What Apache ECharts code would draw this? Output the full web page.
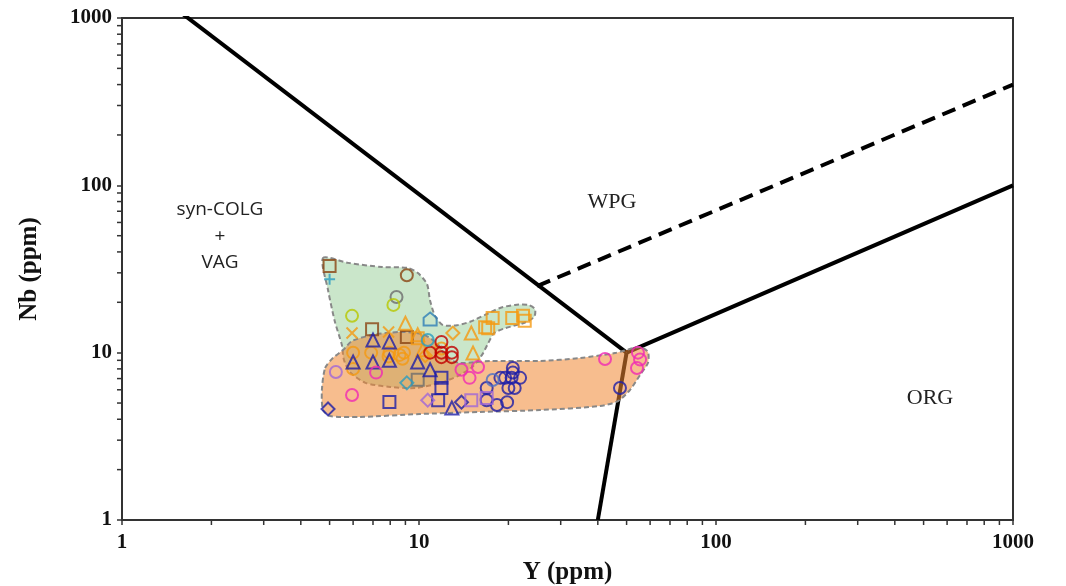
<!DOCTYPE html>
<html>
<head>
<meta charset="utf-8">
<script src="https://cdn.jsdelivr.net/npm/echarts@6/dist/echarts.min.js"></script>
<style>
  html, body { margin: 0; padding: 0; background: #fff; }
  #chart { width: 1066px; height: 586px; }
</style>
</head>
<body>
<div id="chart"></div>
<script>
// discrimination boundaries (Y, Nb)
const lineWPG = [[1, 2000], [50, 10]];
const lineORG = [[50, 10], [1000, 100]];
const lineBottom = [[50, 10], [40, 1]];
const lineDash = [[25, 25], [1000, 400]];

// sample fields
const greenZone = [
  [4.75, 36.8], [5.77, 34.4], [7.51, 32.5], [9.18, 32.1], [9.92, 29.9], [10.64, 25.7],
  [10.89, 20.6], [11.32, 16.6], [12.04, 14.6], [13.43, 14.6], [14.85, 15.3], [16.68, 16.8],
  [18.74, 18.5], [21.05, 19.3], [23.28, 19.3], [24.58, 18.2], [24.4, 16.3], [22.4, 15.0],
  [19.5, 14.0], [17.9, 13.1], [17.1, 11.4], [16.3, 9.7], [15.1, 8.2], [13.5, 7.25],
  [11.8, 6.6], [9.7, 6.15], [8.0, 6.24], [6.6, 6.6], [5.86, 7.66], [5.59, 9.04],
  [5.5, 11.1], [5.21, 15.3], [4.94, 23.7]
];
const orangeZone = [
  [4.83, 8.1], [5.13, 9.29], [5.55, 10.37], [5.95, 11.74], [6.95, 12.75], [8.63, 13.3],
  [10.23, 12.93], [11.5, 11.4], [12.43, 9.29], [13.74, 8.68], [17.34, 8.92], [25.55, 8.92],
  [34.8, 9.29], [45.7, 9.95], [55.5, 10.81], [59.0, 10.09], [59.0, 8.68], [55.5, 7.36],
  [51.3, 5.98], [46.8, 5.14], [40.7, 4.8], [25.55, 4.54], [16.05, 4.42], [10.08, 4.3],
  [6.33, 4.13], [5.02, 4.18], [4.75, 4.54], [4.71, 5.98]
];

// samples
const brownSquares = [[5.0, 33], [6.95, 13.8], [9.1, 12.4]];
const brownCircles = [[9.1, 29]];
const tealPlus = [[5.0, 27.5]];
const grayCircles = [[8.4, 21.5]];
const graySquares = [[9.9, 6.9]];
const limeCircles = [[8.2, 19.3], [5.95, 16.6]];
const orangeCrosses = [[5.95, 13.1], [7.9, 13.3]];
const orangeTriangles = [[9.0, 15], [9.9, 12.8], [15.0, 13.1], [15.2, 9.95], [10.3, 10.4]];
const orangeSquares = [[9.9, 12.2], [16.7, 14.2], [17.1, 14.0], [17.7, 16.1], [20.6, 16.1], [22.4, 16.6], [22.7, 15.5]];
const orangeDiamonds = [[13.0, 13.1], [10.5, 9.6]];
const orangeCircles = [[6.0, 10], [6.9, 10], [7.95, 10], [8.9, 10], [6.0, 8.0], [7.9, 9.5], [8.8, 9.2], [11.9, 10.6], [8.6, 9.7]];
const navyTriangles = [[7.0, 11.9], [7.95, 11.6], [6.0, 8.8], [7.0, 8.8], [7.95, 9.0], [9.9, 8.8], [10.9, 7.9], [12.9, 4.67]];
const navySquares = [[7.95, 5.07], [11.9, 7.07], [11.9, 6.15], [11.6, 5.2]];
const navyDiamonds = [[4.94, 4.61], [13.9, 5.06]];
const navyCircles = [[20.7, 8.1], [20.7, 7.6], [18.8, 7.07], [19.5, 7.07], [20.5, 7.07], [21.9, 7.07], [20.0, 6.15], [21.0, 6.15], [16.9, 6.15], [16.9, 5.2], [18.3, 4.87], [19.8, 5.06], [47.5, 6.15]];
const blueCircles = [[17.7, 6.87]];
const pinkCircles = [[7.17, 7.6], [5.95, 5.58], [13.9, 7.9], [14.8, 7.07], [15.8, 8.2], [42.3, 9.16], [54.6, 10], [55.5, 9.1], [54.2, 8.1]];
const redCircles = [[11.9, 11.6], [10.9, 10], [11.9, 10], [12.9, 10], [11.9, 9.4], [12.9, 9.4]];
const purpleCircles = [[5.25, 7.66]];
const purpleSquares = [[15.0, 5.2], [16.9, 5.35]];
const purpleDiamonds = [[10.7, 5.2]];
const tealDiamonds = [[9.1, 6.6]];
const tealCircles = [[10.7, 11.9]];
const tealHouses = [[10.9, 15.9]];

const xMinorTicks = [2, 3, 4, 5, 6, 7, 8, 9, 20, 30, 40, 50, 60, 70, 80, 90, 200, 300, 400, 500, 600, 700, 800, 900];
const yMinorTicks = [2, 3, 4, 5, 6, 7, 8, 9, 20, 30, 40, 50, 60, 70, 80, 90, 200, 300, 400, 500, 600, 700, 800, 900];

const brown = '#8B4513';
const orange = '#F59A12';
const navy = '#1E1EA8';
const pink = '#F02AB4';

const crossPath = 'path://M0,0L10,10M10,0L0,10';
const plusPath = 'path://M5,0L5,10M0,5L10,5';
const housePath = 'path://M0,4L5,0L10,4L10,10L0,10Z';

const groups = [
  [brownSquares, brown, 'rect', 12],
  [brownCircles, brown, 'circle', 12],
  [tealPlus, '#2A9DC0', plusPath, 11],
  [grayCircles, '#6E6E6E', 'circle', 12],
  [graySquares, '#6E6E6E', 'rect', 12],
  [limeCircles, '#B8C800', 'circle', 12],
  [orangeCrosses, orange, crossPath, 11],
  [orangeTriangles, orange, 'triangle', 13],
  [orangeSquares, orange, 'rect', 12],
  [orangeDiamonds, orange, 'diamond', 13],
  [orangeCircles, orange, 'circle', 12],
  [navyTriangles, navy, 'triangle', 13],
  [navySquares, navy, 'rect', 12],
  [navyDiamonds, navy, 'diamond', 13],
  [navyCircles, navy, 'circle', 12],
  [blueCircles, '#4C6FC4', 'circle', 12],
  [pinkCircles, pink, 'circle', 12],
  [redCircles, '#C00000', 'circle', 12],
  [purpleCircles, '#A066D8', 'circle', 12],
  [purpleSquares, '#A066D8', 'rect', 12],
  [purpleDiamonds, '#A066D8', 'diamond', 13],
  [tealDiamonds, '#2A9DC0', 'diamond', 13],
  [tealCircles, '#2A9DC0', 'circle', 12],
  [tealHouses, '#2F7FB8', housePath, 13]
];

function boundary(data, dashed) {
  return {
    type: 'line', data, z: 1, symbol: 'none', silent: true,
    lineStyle: { color: '#000', width: 4, type: dashed ? [14, 8] : 'solid' }
  };
}

function zone(points, fill) {
  return {
    type: 'custom', z: 2, silent: true, data: [[10, 10]],
    renderItem: (params, api) => ({
      type: 'polygon',
      shape: { points: points.map(p => api.coord(p)), smooth: 0.25 },
      style: { fill, stroke: '#888', lineWidth: 2, lineDash: [5, 3] }
    })
  };
}

function minorTicks(values, isX) {
  return {
    type: 'custom', z: 4, silent: true, clip: false,
    data: values.map(v => isX ? [v, 1] : [1, v]),
    renderItem: (params, api) => {
      const p = api.coord([api.value(0), api.value(1)]);
      const shape = isX
        ? { x1: p[0], y1: p[1], x2: p[0], y2: p[1] + 5 }
        : { x1: p[0] - 5, y1: p[1], x2: p[0], y2: p[1] };
      return { type: 'line', shape, style: { stroke: '#333', lineWidth: 1.5 } };
    }
  };
}

const chart = echarts.init(document.getElementById('chart'));
const axisFont = { fontFamily: 'Liberation Serif', fontSize: 21, fontWeight: 'bold', color: '#111', formatter: v => String(v) };
const nameFont = { fontFamily: 'Liberation Serif', fontSize: 25, fontWeight: 'bold', color: '#111' };
const labelFont = '19px "Open Sans"';

chart.setOption({
  animation: false,
  grid: {
    left: 122, right: 53, top: 18, bottom: 66, outerBoundsMode: 'none',
    show: true, borderColor: '#333', borderWidth: 2
  },
  xAxis: {
    type: 'log', min: 1, max: 1000, logBase: 10,
    name: 'Y (ppm)', nameLocation: 'middle', nameGap: 40, nameTextStyle: nameFont,
    axisLine: { show: true, lineStyle: { color: '#333', width: 2 } },
    axisTick: { show: true, length: 5, lineStyle: { color: '#333', width: 1.5 } },
    axisLabel: Object.assign({ margin: 12 }, axisFont),
    splitLine: { show: false }
  },
  yAxis: {
    type: 'log', min: 1, max: 1000, logBase: 10,
    name: 'Nb (ppm)', nameLocation: 'middle', nameGap: 80, nameTextStyle: nameFont,
    axisLine: { show: true, lineStyle: { color: '#333', width: 2 } },
    axisTick: { show: true, length: 5, lineStyle: { color: '#333', width: 1.5 } },
    axisLabel: Object.assign({ margin: 10 }, axisFont),
    splitLine: { show: false }
  },
  graphic: [
    { type: 'text', x: 612, y: 202, style: { text: 'WPG', font: '22px "Liberation Serif"', fill: '#222', align: 'center', verticalAlign: 'middle' } },
    { type: 'text', x: 930, y: 398, style: { text: 'ORG', font: '22px "Liberation Serif"', fill: '#222', align: 'center', verticalAlign: 'middle' } },
    { type: 'text', x: 220, y: 210, style: { text: 'syn-COLG', font: labelFont, fill: '#222', align: 'center', verticalAlign: 'middle' } },
    { type: 'text', x: 220, y: 237, style: { text: '+', font: labelFont, fill: '#222', align: 'center', verticalAlign: 'middle' } },
    { type: 'text', x: 220, y: 263, style: { text: 'VAG', font: labelFont, fill: '#222', align: 'center', verticalAlign: 'middle' } }
  ],
  series: [
    boundary(lineWPG, false),
    boundary(lineORG, false),
    boundary(lineBottom, false),
    boundary(lineDash, true),
    zone(greenZone, 'rgba(150, 205, 150, 0.5)'),
    zone(orangeZone, 'rgba(240, 135, 50, 0.55)'),
    minorTicks(xMinorTicks, true),
    minorTicks(yMinorTicks, false)
  ].concat(groups.map(([data, color, symbol, size]) => ({
    type: 'scatter', z: 5, data, symbol, symbolSize: size,
    itemStyle: { color: 'rgba(255,255,255,0)', borderColor: color, borderWidth: 2 }
  })))
});
</script>
</body>
</html>
